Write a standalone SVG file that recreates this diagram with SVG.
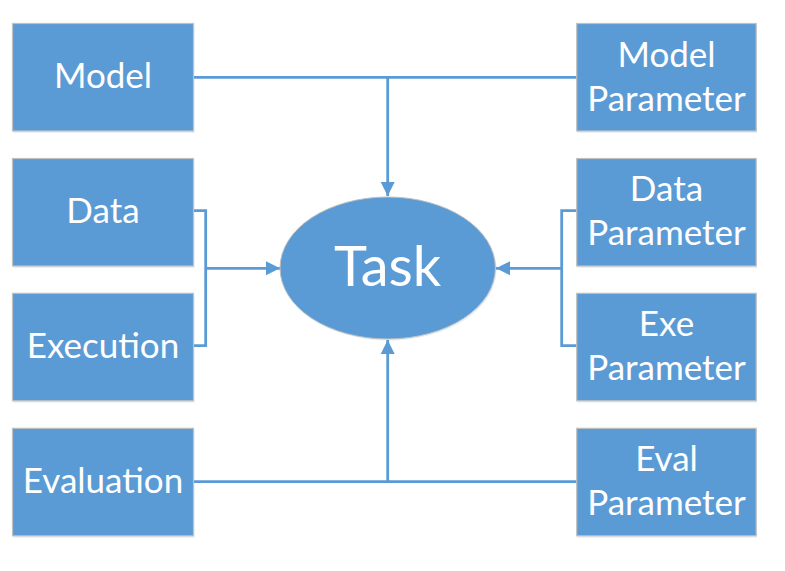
<svg xmlns="http://www.w3.org/2000/svg" width="785" height="571" viewBox="0 0 785 571">
<defs>
<style>
.box{fill:#5B9BD5;stroke:#C0C0C0;stroke-width:1.2}
.sh{fill:#5B9BD5;opacity:0.15}
.t{font-family:Lato,"Open Sans",sans-serif;font-size:35px;fill:#FFFFFF;text-anchor:middle}
.c{fill:none;stroke:#5B9BD5;stroke-width:2.8}
</style>
<marker id="ah" markerUnits="userSpaceOnUse" markerWidth="16" markerHeight="16" viewBox="0 0 16 16" refX="15" refY="8" orient="auto">
<path d="M1,1 L15,8 L1,15 Z" fill="#5B9BD5"/>
</marker>
</defs>
<g id="connectors">
<path class="c" d="M193.5,77.3 H577"/>
<path class="c" d="M387.7,77.3 V196" marker-end="url(#ah)"/>
<path class="c" d="M193.5,481.7 H577"/>
<path class="c" d="M387.7,481.7 V340" marker-end="url(#ah)"/>
<path class="c" d="M193.5,210.7 H205.7 V345.7 H193.5"/>
<path class="c" d="M205.7,268.3 H280" marker-end="url(#ah)"/>
<path class="c" d="M577,210.7 H561.7 V345.7 H577"/>
<path class="c" d="M561.7,268.3 H496" marker-end="url(#ah)"/>
</g>
<g id="model">
<rect class="sh" x="13.5" y="25.5" width="181" height="107.5"/>
<rect class="box" x="12.5" y="23.5" width="181" height="107.5"/>
<text class="t" x="103" y="88.3">Model</text>
</g>
<g id="data">
<rect class="sh" x="13.5" y="160.5" width="181" height="107.5"/>
<rect class="box" x="12.5" y="158.5" width="181" height="107.5"/>
<text class="t" x="103" y="223.3">Data</text>
</g>
<g id="execution">
<rect class="sh" x="13.5" y="295.3" width="181" height="107.5"/>
<rect class="box" x="12.5" y="293.3" width="181" height="107.5"/>
<text class="t" x="103" y="358.3">Execution</text>
</g>
<g id="evaluation">
<rect class="sh" x="13.5" y="430.3" width="181" height="107.5"/>
<rect class="box" x="12.5" y="428.3" width="181" height="107.5"/>
<text class="t" x="103" y="492.7">Evaluation</text>
</g>
<g id="model-parameter">
<rect class="sh" x="577.5" y="25.5" width="179.5" height="107.5"/>
<rect class="box" x="576.7" y="23.5" width="179.5" height="107.5"/>
<text class="t" x="666.5" y="66.7">Model</text>
<text class="t" x="666.5" y="110.7">Parameter</text>
</g>
<g id="data-parameter">
<rect class="sh" x="577.5" y="160.5" width="179.5" height="107.5"/>
<rect class="box" x="576.7" y="158.5" width="179.5" height="107.5"/>
<text class="t" x="666.5" y="201">Data</text>
<text class="t" x="666.5" y="245">Parameter</text>
</g>
<g id="exe-parameter">
<rect class="sh" x="577.5" y="295.3" width="179.5" height="107.5"/>
<rect class="box" x="576.7" y="293.3" width="179.5" height="107.5"/>
<text class="t" x="666.5" y="336.2">Exe</text>
<text class="t" x="666.5" y="380.2">Parameter</text>
</g>
<g id="eval-parameter">
<rect class="sh" x="577.5" y="430.3" width="179.5" height="107.5"/>
<rect class="box" x="576.7" y="428.3" width="179.5" height="107.5"/>
<text class="t" x="666.5" y="471.2">Eval</text>
<text class="t" x="666.5" y="515.2">Parameter</text>
</g>
<g id="task">
<ellipse cx="389" cy="269.5" rx="107.7" ry="71" fill="#5B9BD5" opacity="0.15"/>
<ellipse cx="387.7" cy="268" rx="107.7" ry="71" fill="#5B9BD5" stroke="#C0C0C0" stroke-width="1"/>
<text class="t" x="387.7" y="286" style="font-size:56px">Task</text>
</g>
</svg>
